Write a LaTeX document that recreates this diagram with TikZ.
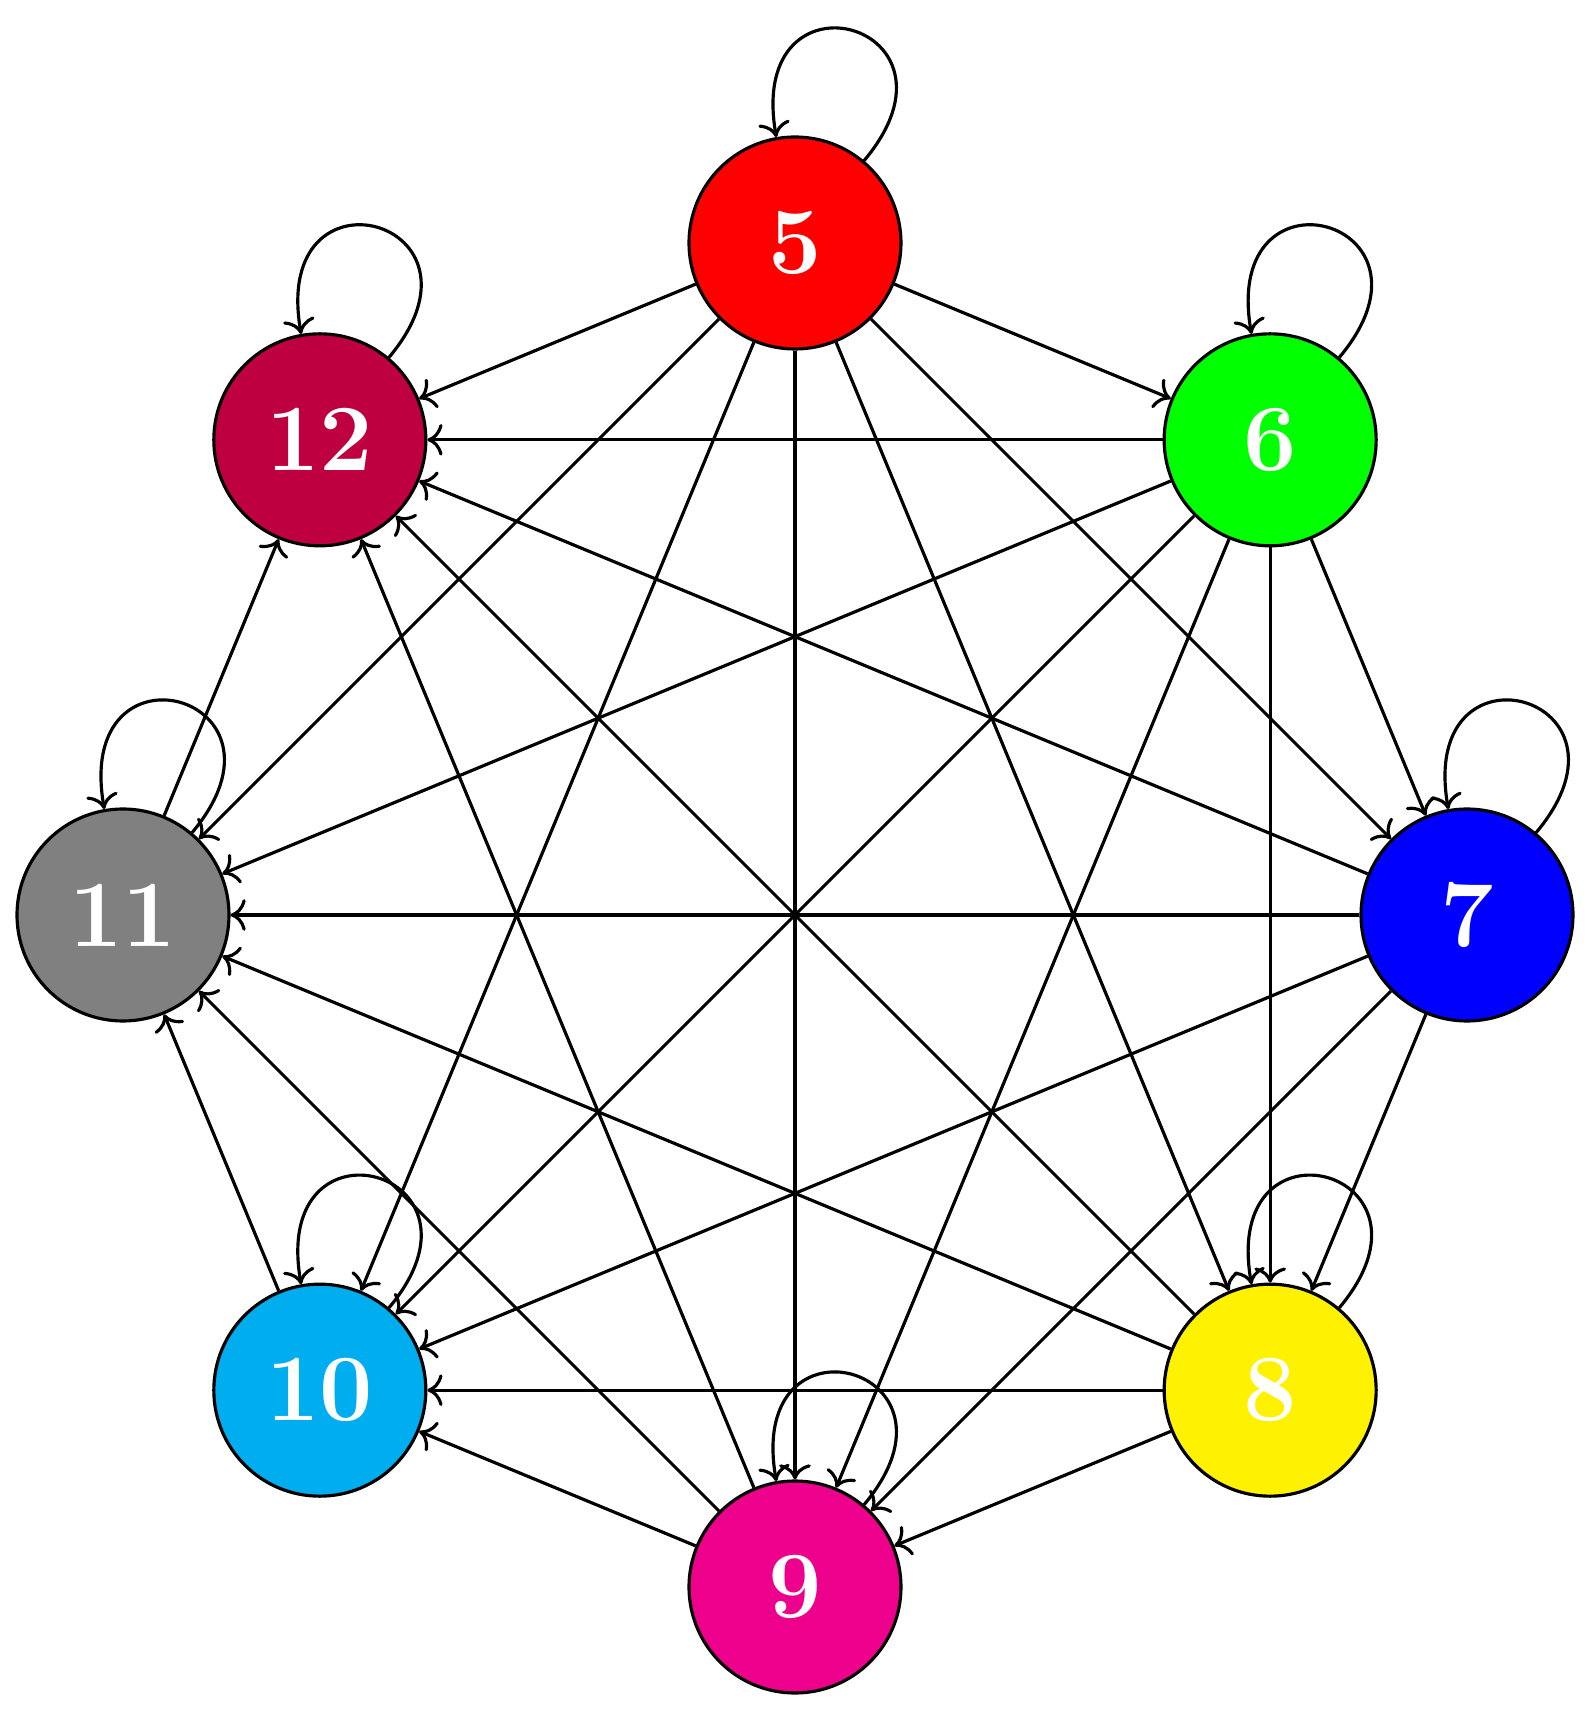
\documentclass[tikz,border=0pt]{standalone}
\usepackage{tikz}
\usepackage{xcolor}
\usetikzlibrary{arrows,arrows.meta,positioning,calc}

\definecolor{vcyan}{RGB}{0,174,239}
\definecolor{vmagenta}{RGB}{236,0,140}
\definecolor{vyellow}{RGB}{255,242,0}

\begin{document}
\begin{tikzpicture}[line width=0.9pt,>={Computer Modern Rightarrow[scale=1.2]},
    vertex/.style={circle,draw,minimum size=2.12cm,inner sep=0pt,text=white,font=\fontsize{27}{30}\selectfont\bfseries}]
    \useasboundingbox (-7.95,-7.97) rectangle (7.95,9.15);

    % Vertices
    \node[vertex,fill=red] (n5) at (90:6.72) {5};
    \node[vertex,fill=green] (n6) at (45:6.72) {6};
    \node[vertex,fill=blue] (n7) at (0:6.72) {7};
    \node[vertex,fill=vyellow] (n8) at (-45:6.72) {8};
    \node[vertex,fill=vmagenta] (n9) at (-90:6.72) {9};
    \node[vertex,fill=vcyan] (n10) at (-135:6.72) {10};
    \node[vertex,fill=gray] (n11) at (180:6.72) {11};
    \node[vertex,fill=purple] (n12) at (135:6.72) {12};

    % Self loops
    \draw[->] (n5.50) .. controls +(50:1.8) and +(100:1.8) .. (n5.100);
    \draw[->] (n6.50) .. controls +(50:1.8) and +(100:1.8) .. (n6.100);
    \draw[->] (n7.50) .. controls +(50:1.8) and +(100:1.8) .. (n7.100);
    \draw[->] (n8.50) .. controls +(50:1.8) and +(100:1.8) .. (n8.100);
    \draw[->] (n9.50) .. controls +(50:1.8) and +(100:1.8) .. (n9.100);
    \draw[->] (n10.50) .. controls +(50:1.8) and +(100:1.8) .. (n10.100);
    \draw[->] (n11.50) .. controls +(50:1.8) and +(100:1.8) .. (n11.100);
    \draw[->] (n12.50) .. controls +(50:1.8) and +(100:1.8) .. (n12.100);

    % Edges from 5
    \draw[->] (n5) -- (n6);
    \draw[->] (n5) -- (n7);
    \draw[->] (n5) -- (n8);
    \draw[->] (n5) -- (n9);
    \draw[->] (n5) -- (n10);
    \draw[->] (n5) -- (n11);
    \draw[->] (n5) -- (n12);

    % Edges from 6
    \draw[->] (n6) -- (n7);
    \draw[->] (n6) -- (n8);
    \draw[->] (n6) -- (n9);
    \draw[->] (n6) -- (n10);
    \draw[->] (n6) -- (n11);
    \draw[->] (n6) -- (n12);

    % Edges from 7
    \draw[->] (n7) -- (n8);
    \draw[->] (n7) -- (n9);
    \draw[->] (n7) -- (n10);
    \draw[->] (n7) -- (n11);
    \draw[->] (n7) -- (n12);

    % Edges from 8
    \draw[->] (n8) -- (n9);
    \draw[->] (n8) -- (n10);
    \draw[->] (n8) -- (n11);
    \draw[->] (n8) -- (n12);

    % Edges from 9, 10, 11
    \draw[->] (n9) -- (n10);
    \draw[->] (n9) -- (n11);
    \draw[->] (n9) -- (n12);
    \draw[->] (n10) -- (n11);
    \draw[->] (n11) -- (n12);
\end{tikzpicture}
\end{document}
